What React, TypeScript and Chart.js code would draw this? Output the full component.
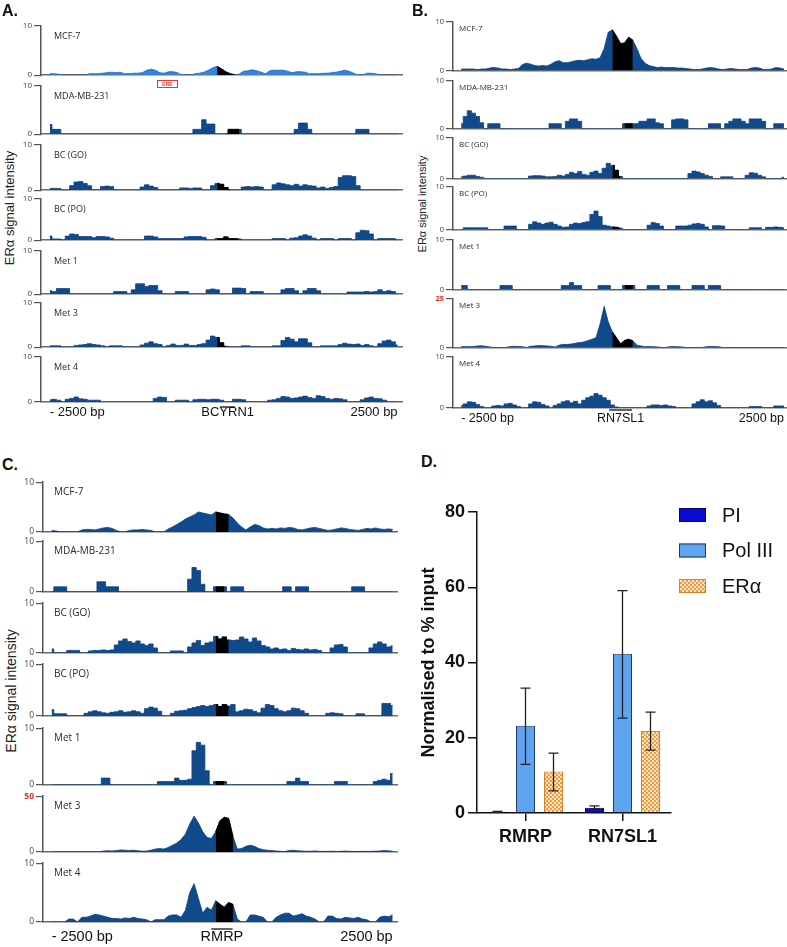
import React, { useEffect, useRef } from 'react';
import { Chart, registerables } from 'chart.js';

Chart.register(...registerables);

const FONT = '"Liberation Sans", Arial, Helvetica, sans-serif';
const LFONT = '"Open Sans", "Liberation Sans", Arial, sans-serif';

const trackNames = ['MCF-7', 'MDA-MB-231', 'BC (GO)', 'BC (PO)', 'Met 1', 'Met 3', 'Met 4'];
const edgeLabels = ['- 2500 bp', '2500 bp'];

// ---------------- Panel A (BCYRN1) : 80 bins across -2500..+2500 bp
const aMCF7 = [0.3,0.3,0.2,0,0,0,0,0,0,0.3,0.3,0.3,0.4,0.5,0.6,0.5,0.6,0.3,0.3,0.4,0.4,0.5,1.0,1.2,1.0,0.5,0.4,0.7,0.7,0.5,0,0,0,0.3,0.4,0.6,1.0,1.5,1.8,1.3,0.7,0.3,0.1,0.2,0.8,0.9,1.1,0.9,0.6,0.3,0.9,1.0,1.0,1.0,0.8,0.5,0.7,0.7,0.6,0.3,0.3,0.3,0.4,0.4,0.5,0.6,0.8,1.0,0.8,0.4,0,0,0.4,0.4,0.3,0,0,0,0,0];
const aMDA = [2.0,1.0,1.0,0,0,0,0,0,0,0,0,0,0,0,0,0,0,0,0,0,0,0,0,0,0,0,0,0,0,0,0,0,0,1.0,1.0,3.0,2.1,2.1,0,0,0,1.0,1.0,1.0,0,0,0,0,0,0,0,0,0,0,0,0,1.0,2.3,2.3,1.0,0,0,0,0,0,0,0,0,0,0,1.0,1.0,1.0,0,0,0,0,0,0,0];
const aGO = [0.4,0.4,0.4,0,0,1.0,1.8,1.9,1.5,1.0,0,0,0.8,0.9,0.8,0,0,0,0,0,0,0.7,1.2,0.9,0.6,0,0,0,0,0,0.5,0.5,0.4,0.5,0.5,0,0,1.0,1.5,1.3,0.6,0,0,0,0.7,0.8,0.7,0.8,0.7,0,0,1.2,1.6,1.4,1.2,1.0,1.3,0.9,1.2,1.0,0.9,0.5,0.7,0.4,0.6,0.8,2.8,3.2,3.2,3.0,1.0,0,0,0,0,0,0,0,0,0];
const aPO = [1.0,0.3,0.3,0,1.0,1.5,1.4,0.9,0.9,0.9,0.6,0.9,0.9,0.8,0.5,0,0,0,0,0,0,0,1.0,1.0,0.8,0.4,0.4,0.4,0.4,0.4,0.4,0.8,0.9,0.9,0.9,0.7,0,0,0.4,0.4,0.8,0.4,0.4,0.3,0,0,0,0,0,0,0,0.4,0.4,0.4,0,0.5,0.6,1.0,1.3,1.0,0.5,0,0.4,0.4,0.4,0,0.4,0.4,0.4,0,1.8,2.4,2.3,1.5,0,0.4,0.4,0.4,0.4,0];
const aMet1 = [0.8,0.6,1.3,1.3,1.3,0,0,0,0,0,0,0,0,0,0,0.6,0.6,0.6,0,1.0,2.4,2.4,1.8,2.0,2.0,0.8,0,0,0,0.6,0.6,0.6,0,0,0,0,1.0,1.2,1.0,0,0,0,1.4,1.4,1.3,0,0.6,0.6,0.6,0,0,0,0,1.0,1.3,1.3,0.8,0,0.8,1.3,1.3,0.8,0,0,0,0,0,0,0.5,0.5,0.5,0.5,0.6,0.5,0.6,1.0,0.6,0.8,0.6,0];
const aMet3 = [0.3,0.3,0.3,0,0,0,0.4,0.5,0.6,0.8,0.6,0.5,0.3,0,0.3,0.3,0.3,0,0,0,0,0.5,0.9,1.2,0.8,0.6,0,0.4,0.7,0.4,0.4,0.7,0.4,0.4,0.6,0.8,1.6,2.5,2.2,1.0,0.2,0,0,0,0.3,0.3,0,0,0,0,0,0.3,0.3,1.5,2.2,1.8,1.2,1.9,1.9,1.0,0,0,0.3,0.3,0.3,0.3,0.6,0.9,0.7,0.6,0.7,0.4,0.6,0.3,0,0.8,1.4,1.6,1.2,0.5];
const aMet4 = [0.5,0.6,0.4,0,0.6,0.8,1.1,0.7,0.6,0.4,0.4,0.4,0,0,0,0,0,0,0,0,0,0,0,0,0.8,1.1,1.0,0,0,0.4,0.4,0.4,0,0.5,0.6,0.6,0.5,0.6,0.6,0.4,0,0,0.6,0.6,0.5,0,0,0,0,0,0.4,0.5,0.8,1.2,1.1,0.8,0.9,1.1,1.3,1.0,0.8,1.4,1.2,0.8,0.6,0.8,0.7,0.5,0,0,0,0.5,0.9,1.1,0.8,0.7,0.4,0,0,0];
const aMax = [10, 10, 10, 10, 10, 10, 10];
const aBlack = [[38, 42], [40, 43], [38, 41], [38, 43], null, [38, 40], null];
const aGeneName = 'BCYRN1';
const aGeneBins = [38.7, 42.1];

// ---------------- Panel B (RN7SL1)
const bMCF7 = [0.3,0.3,0.3,0.3,0.2,0.3,0.3,0.5,0.6,0.5,0.3,0.3,0.2,0.3,0.4,1.2,1.5,1.3,1.0,0.9,1.0,0.9,1.3,1.8,2.0,1.6,1.6,1.8,2.0,2.1,2.0,2.2,2.4,2.3,2.6,4.5,7.8,8.3,7.0,5.5,5.6,6.8,6.2,4.5,2.5,1.5,1.0,0.8,0.6,0.7,0.6,0.6,0.6,0.5,0.5,0.4,0.3,0.2,0.2,0.3,0.5,0.6,0.5,0.3,0.2,0.3,0.4,0.3,0.2,0.2,0.2,0.5,0.6,0.5,0.2,0.2,0.3,0.6,0.5,0.3];
const bMDA = [1.0,2.5,3.7,3.2,2.5,1.2,0,1.0,1.0,1.0,0,0,0,0,0,0,0,0,0,0,0,0,1.0,1.0,1.0,0,1.5,2.0,2.0,1.5,0,0,0,0,0,0,0,0,0,0,1.0,1.0,1.0,1.0,1.5,1.5,2.0,2.0,1.2,1.0,0,0,1.8,2.0,2.0,1.8,0,0,0,0,0,1.0,1.0,1.0,0,1.0,1.5,2.0,2.0,1.5,1.0,2.0,2.0,2.0,1.5,0,0,1.0,1.0,1.0];
const bGO = [0.4,0.6,0.8,0.8,0.5,0.3,0,0,0,0,0,0,0,0,0,0,0,0.6,0.7,0.7,0.6,0.4,0.4,0.5,0.8,0.6,1.0,1.5,1.2,1.7,1.0,0.8,1.5,1.8,1.2,2.5,3.7,3.2,2.0,0.5,0,0,0,0,0,0,0,0,0,0,0,0,0,0,0,0,1.2,1.8,1.6,1.2,0.8,0.5,0,0,0.4,0.4,0.4,0,0,0,0.8,1.4,1.3,0.8,0.4,0,0,0,0,0.3];
const bPO = [0,0.4,0.4,0.4,0.4,0.4,0.4,0,0,0,0,0.8,0.8,0.8,0,0,0,1.2,1.8,1.5,1.2,1.5,1.7,1.2,0.8,0.5,0.6,1.2,1.5,1.4,1.6,1.8,3.5,4.3,3.0,1.0,0.8,0.6,0.5,0.3,0,0,0,0,0,0,1.0,1.6,1.4,0.8,0,0,0,0.8,0.8,0.8,1.0,1.3,1.4,1.2,0.6,0,0.9,0.9,0.8,0,0,0,0,0,0,0.4,0.4,0.4,0,0.5,0.5,0.6,0.5,0.4];
const bMet1 = [0.8,0.8,0,0,0,0,0,0,0,0,0.8,0.8,0.8,0,0,0,0,0,0,0,0,0,0,0,0,0.8,0.8,1.4,0.8,0.8,0,0,0,0,0.8,0.8,0.8,0,0,0,0.8,0.8,0.8,0,0,0,0.8,0.8,0.8,0,0,0.8,0.8,0.8,0,0,0,0.8,0.8,0.8,0,0.8,0.8,0.8,0,0,0,0,0,0,0,0,0,0,0,0,0,0,0,0];
const bMet3 = [0.4,0.5,0.4,0.5,0.8,0.9,0.6,0.3,0,0,0,0,0.5,0.6,0.5,0.4,0,0.6,0.8,1.0,0.9,0.8,0.6,0.3,1.2,1.6,1.5,1.8,2.2,2.5,2.8,3.5,4.2,5.0,12,21,13,8,5,1.8,3.6,4.2,3.5,1.2,0.8,0.4,0.5,0.4,0.3,0,0,0.4,0.5,0.4,0.3,0,0,0,0,0,0.4,0.5,0.5,0.4,0,0,0,0,0,0,0,0,0,0,0,0,0,0,0,0];
const bMet4 = [0.5,0.8,1.2,1.1,0.7,0.3,0,0,0.4,0.5,0.4,0.8,0.9,0.6,0.3,0,0,0.8,1.2,1.1,0.7,0.4,0,0.5,0.8,1.2,1.4,1.0,1.3,0.8,1.5,2.0,2.3,2.8,2.5,2.0,1.5,0.6,0.2,0,0,0,0,0,0,0,0.4,0.6,0.6,0.5,0.6,0.4,0.3,0,0,0,0,0.8,1.2,1.6,1.2,1.4,1.0,0.5,0,0,0,0,0,0,0,0.3,0.3,0.3,0,0,0,0.4,0.4,0.4];
const bMax = [10, 10, 10, 10, 10, 25, 10];
const bBlack = [[37, 42], [40, 42], [37, 39], [37, 39], [40, 42], [37, 42], null];
const bGeneName = 'RN7SL1';
const bGeneBins = [36.2, 41.8];

// ---------------- Panel C (RMRP)
const cMCF7 = [0.3,0.2,0,0,0,0,0,0.4,0.5,0.5,0.4,0.6,0.8,0.9,0.7,0.3,0,0,0.3,0.4,0.4,0.5,0.4,0.3,0,0,0,0.6,1.0,1.5,2.0,2.6,3.0,3.4,4.0,3.8,3.6,3.4,4.0,3.8,3.6,3.5,2.8,1.8,1.0,0.4,1.0,1.5,1.3,0.8,0.6,0.7,0.6,0.8,0.7,0.9,0.8,0.5,0.4,0.6,0.8,0.9,0.7,0.5,0.3,0.4,0.6,0.8,0.7,0.5,0.4,0.3,0.5,0.7,0.6,0.8,0.6,0.5,0.6,0.5];
const cMDA = [0,1.0,1.0,1.0,0,0,0,0,0,0,0,2.0,2.0,1.0,1.0,1.0,0,0,0,0,0,0,0,0,0,0,0,0,0,0,0,0,2.5,4.8,4.2,1.5,0,0,1.0,1.0,1.0,0,1.0,1.0,1.0,0,0,0,0,0,0,0,0,0,1.0,1.0,0,1.0,1.0,1.0,0,0,0,0,0,0,0,0,0,0,1.0,1.0,1.0,0,0,0,0,0,0,0];
const cGO = [0.8,0,0,0,0.5,0.5,0.5,0,0,0.4,0.5,0.5,0.6,0.5,0.6,1.6,2.4,2.8,2.3,2.0,2.4,1.8,1.5,1.8,1.0,0,0,0,0.4,0.4,0.4,0,1.2,2.0,2.5,1.5,2.0,2.2,3.3,2.8,3.2,2.6,2.5,2.6,3.2,2.8,2.2,3.0,2.4,1.5,1.2,0.8,1.0,0.7,0.8,0.5,0.9,0.7,0.6,0.8,0.6,0.7,0.5,0,0,1.0,1.6,1.7,1.2,0,0,0,0,0,1.0,1.8,2.2,1.8,1.2,1.4];
const cPO = [1.2,0.4,0.4,0.4,0,0,0,0,0.5,0.8,1.0,0.8,0.6,0.5,0.7,0.8,1.0,0.7,0.8,1.0,0.8,0.5,1.4,1.7,1.5,0.9,0,0,0.5,0.9,1.0,1.1,1.4,1.6,1.8,2.0,1.8,2.0,2.2,1.8,2.2,1.9,2.2,0.8,1.0,1.3,1.2,0.9,0.6,1.5,2.2,2.0,1.4,1.0,0.8,1.0,1.5,1.4,1.0,0.5,0,0,0,0,0.5,0.6,0.5,0.4,0,0,0,0.4,0.4,0,0,0,0,2.4,2.4,2.0];
const cMet1 = [0,0,0,0,0,0,0,0,0,0,0,0,1.2,1.2,0,0,0,0,0,0,0,0,0,0,0,0.6,0.6,0.6,0.6,1.2,0.8,0.8,1.0,6.0,7.5,7.0,2.5,0,0.6,0.6,0.6,0,0,0,0,0,0,0,0,0,0,0,0,0,0,0.6,0.6,1.2,0.6,0.6,0,0,0,0,0,0,0.6,0.6,0.6,0,0,0,0,0,0,0.6,0.8,1.0,0.8,2.0];
const cMet3 = [0,0,0,0,0,0,0,0,0,0,0,0,0.8,1.0,0.8,1.2,1.8,1.5,1.2,1.5,1.0,0.6,0.8,1.5,2.5,3.0,2.5,4.0,6.0,8.0,11,16,25,32,26,18,13,12,18,28,31,30,14,2.5,3,5,6,5,3,2,1.5,1.2,0.8,0.5,0.3,1.2,1.5,1.0,0.8,0.5,0.6,0.8,0.5,0.4,0.5,0.6,0.4,0.5,0.7,0.5,0.4,0.3,0.5,0.4,0.5,0.6,0.8,1.2,1.0,0.6];
const cMet4 = [0,0,0,0,0.5,0.5,0,0.8,0.8,1.0,1.3,1.2,1.0,0.8,0.6,0.6,0.5,0.7,0.6,0.8,0.6,0.5,0.4,0,0.4,0.4,0.4,1.0,1.2,1.2,0.8,2.0,5.0,6.5,4.0,1.5,2.5,2.0,3.6,3.0,2.5,3.3,3.0,0.5,0,0,1.2,1.2,1.0,0.8,0,0,0.8,1.2,1.5,1.5,1.0,1.2,1.4,1.0,0.8,0.5,0,0,1.0,1.0,0.6,0.5,0.8,0.7,0.6,0.8,0.5,0.4,0,0,0.8,1.0,0.9,1.2];
const cMax = [10, 10, 10, 10, 10, 50, 10];
const cBlack = [[38, 41], [38, 40], [38, 41], [38, 41], [38, 40], [38, 42], [38, 42]];
const cGeneName = 'RMRP';
const cGeneBins = [37, 41.9];

// ---------------- Panel D (ChIP-qPCR)
const groups = ['RMRP', 'RN7SL1'];
const seriesNames = ['PI', 'Pol III', 'ER\u03b1'];
const piMean = [0.3, 1.4];
const piLow = [0.2, 1.1];
const piHigh = [0.45, 1.9];
const polMean = [23.2, 42.3];
const polLow = [12.9, 25.2];
const polHigh = [33.2, 59.1];
const eraMean = [11.0, 21.8];
const eraLow = [5.9, 16.7];
const eraHigh = [15.9, 26.8];
const yTicksD = [0, 20, 40, 60, 80];

// ---------------- Layout / style (positions only)
const layoutA = { axisX: 41, right: 402, tops: [25, 85, 144, 198, 250, 302, 356], bases: [77, 136, 192, 242, 296, 349, 402], xMax: 80,
  stepped: [false, true, true, true, true, true, true],
  labelSize: 9, labelDx: 13, labelDy: 11, tickSize: 8, bottomSize: 13, bottomPad: 3, barDy: 5 };
const layoutB = { axisX: 453, right: 786, tops: [21, 80, 137, 186, 239, 298, 356], bases: [72, 130, 180, 231, 291, 349, 408], xMax: 79.5,
  stepped: [false, true, true, true, true, false, true],
  labelSize: 8, labelDx: 6, labelDy: 7, tickSize: 7.5, bottomSize: 12.5, bottomPad: 3, barDy: 2 };
const layoutC = { axisX: 43, right: 397, tops: [481, 540, 602, 663, 727, 795, 862], bases: [534, 594, 655, 718, 787, 854, 922], xMax: 80,
  stepped: [false, true, true, true, true, false, false],
  labelSize: 10, labelDx: 11, labelDy: 10, tickSize: 8.5, bottomSize: 14.5, bottomPad: 6, barDy: 7 };

const DARK = '#104a8c';
const DARK_B = '#0c3f7a';
const LIGHT = '#3683da';
const LIGHT_B = '#1f62b5';

function Track(p: any) {
  const ref = useRef<HTMLCanvasElement>(null);
  const AX = 24;
  const PT = 6;
  const PR = 2;
  const PB = p.isLast ? 0 : 5;
  const XH = p.isLast ? 26 : 0;
  const left = p.axisX - AX;
  const w = p.right - left + PR;
  const h = p.base - p.top + PT + PB + XH;

  useEffect(() => {
    const pts = p.values.map((v: number, i: number) => ({ x: i, y: v }));
    const blk = p.black ? pts.filter((pt: any) => pt.x >= p.black[0] && pt.x <= p.black[1]) : [];
    const stepped = p.stepped ? 'middle' : false;
    const geneMid = (p.geneBins[0] + p.geneBins[1]) / 2;
    const bottomTicks = [0, geneMid, p.values.length - 1];
    const bottomLabels = [edgeLabels[0], p.geneName, edgeLabels[1]];
    const decor = {
      id: 'trackDecor',
      afterDraw(chart: any) {
        const c = chart.ctx;
        const a = chart.chartArea;
        c.save();
        c.fillStyle = '#2a2a2a';
        c.font = `${p.labelSize}px ${LFONT}`;
        c.textBaseline = 'middle';
        c.textAlign = 'left';
        c.fillText(p.name, a.left + p.labelDx, a.top + p.labelDy);
        if (p.isLast) {
          const xs = chart.scales.x;
          const y = a.bottom + p.barDy;
          c.strokeStyle = '#111';
          c.lineWidth = 1.3;
          c.beginPath();
          c.moveTo(xs.getPixelForValue(p.geneBins[0]), y);
          c.lineTo(xs.getPixelForValue(p.geneBins[1]), y);
          c.stroke();
        }
        c.restore();
      },
    };
    const chart = new Chart(ref.current as HTMLCanvasElement, {
      type: 'line',
      data: {
        datasets: [
          { data: blk, backgroundColor: '#000', borderColor: '#000', borderWidth: 0.8, fill: 'origin', pointRadius: 0, tension: 0, stepped, order: 0 },
          { data: pts, backgroundColor: p.fill, borderColor: p.border, borderWidth: 0.8, fill: 'origin', pointRadius: 0, tension: 0, stepped, order: 1 },
        ],
      },
      options: {
        animation: false,
        responsive: false,
        maintainAspectRatio: false,
        devicePixelRatio: 1,
        events: [],
        layout: { padding: { top: PT, bottom: PB, right: PR, left: 0 } },
        plugins: { legend: { display: false }, tooltip: { enabled: false } },
        scales: {
          x: {
            type: 'linear', min: -2, max: p.xMax, z: 1,
            grid: { display: false, drawTicks: false },
            border: { display: true, color: '#6a6a6a', width: 1.5 },
            ticks: {
              display: p.isLast, autoSkip: false, maxRotation: 0, minRotation: 0, align: 'inner',
              padding: p.bottomPad, color: '#111', font: { size: p.bottomSize, family: FONT },
              callback: (_v: any, i: number) => bottomLabels[i],
            },
            afterBuildTicks: (s: any) => { s.ticks = p.isLast ? bottomTicks.map((v) => ({ value: v })) : []; },
            afterFit: (s: any) => { s.height = XH; },
          },
          y: {
            type: 'linear', min: 0, max: p.max, z: 1,
            grid: { drawOnChartArea: false, drawTicks: true, tickLength: 7, color: '#555', lineWidth: 1.2 },
            border: { display: true, color: '#555', width: 1.5 },
            ticks: {
              padding: 2,
              font: (ctx: any) => ({ size: p.tickSize, family: LFONT, weight: p.max !== 10 && ctx.tick && ctx.tick.value === p.max ? 'bold' : 'normal' }),
              color: (ctx: any) => (p.max !== 10 && ctx.tick && ctx.tick.value === p.max ? '#e0302c' : '#444'),
              callback: (v: any) => String(v),
            },
            afterBuildTicks: (s: any) => { s.ticks = [{ value: 0 }, { value: p.max }]; },
            afterFit: (s: any) => { s.width = AX; },
          },
        },
      } as any,
      plugins: [decor],
    });
    return () => chart.destroy();
  }, []);

  return (
    <canvas
      ref={ref}
      width={w}
      height={h}
      style={{ position: 'absolute', left, top: p.top - PT, width: w, height: h }}
    />
  );
}

function TrackPanel(props: any) {
  const { tracks, maxes, blacks, lay, geneName, geneBins } = props;
  return (
    <>
      {tracks.map((vals: number[], i: number) => (
        <Track
          key={i}
          values={vals}
          max={maxes[i]}
          black={blacks[i]}
          name={trackNames[i]}
          axisX={lay.axisX}
          right={lay.right}
          top={lay.tops[i]}
          base={lay.bases[i]}
          xMax={lay.xMax}
          stepped={lay.stepped[i]}
          fill={props.lightFirst && i === 0 ? LIGHT : DARK}
          border={props.lightFirst && i === 0 ? LIGHT_B : DARK_B}
          isLast={i === tracks.length - 1}
          geneName={geneName}
          geneBins={geneBins}
          labelSize={lay.labelSize}
          labelDx={lay.labelDx}
          labelDy={lay.labelDy}
          tickSize={lay.tickSize}
          bottomSize={lay.bottomSize}
          bottomPad={lay.bottomPad}
          barDy={lay.barDy}
        />
      ))}
    </>
  );
}

function BarPanel() {
  const ref = useRef<HTMLCanvasElement>(null);
  const W = 367;
  const H = 360;
  useEffect(() => {
    const canvas = ref.current as HTMLCanvasElement;
    const pc = document.createElement('canvas');
    pc.width = 4;
    pc.height = 4;
    const g = pc.getContext('2d') as CanvasRenderingContext2D;
    g.fillStyle = '#fde5c4';
    g.fillRect(0, 0, 4, 4);
    g.fillStyle = '#f39a3e';
    g.fillRect(0, 0, 2, 2);
    g.fillRect(2, 2, 2, 2);
    const pattern = (canvas.getContext('2d') as CanvasRenderingContext2D).createPattern(pc, 'repeat');

    const lows = [piLow, polLow, eraLow];
    const highs = [piHigh, polHigh, eraHigh];

    const errorBars = {
      id: 'errorBars',
      afterDatasetsDraw(chart: any) {
        const c = chart.ctx;
        const ys = chart.scales.y;
        c.save();
        c.strokeStyle = '#222';
        c.lineWidth = 1.3;
        chart.data.datasets.forEach((_d: any, di: number) => {
          const meta = chart.getDatasetMeta(di);
          meta.data.forEach((el: any, j: number) => {
            const x = el.x;
            const y1 = ys.getPixelForValue(lows[di][j]);
            const y2 = ys.getPixelForValue(highs[di][j]);
            c.beginPath();
            c.moveTo(x, y1); c.lineTo(x, y2);
            c.moveTo(x - 5, y1); c.lineTo(x + 5, y1);
            c.moveTo(x - 5, y2); c.lineTo(x + 5, y2);
            c.stroke();
          });
        });
        c.restore();
      },
    };

    const legendD = {
      id: 'legendD',
      afterDraw(chart: any) {
        const c = chart.ctx;
        const a = chart.chartArea;
        c.save();
        chart.data.datasets.forEach((d: any, i: number) => {
          const x = a.right + 8;
          const y = a.top + 3 + i * 35.5;
          c.fillStyle = d.backgroundColor;
          c.fillRect(x, y - 7, 27, 14);
          c.strokeStyle = d.borderColor;
          c.lineWidth = 1;
          c.strokeRect(x + 0.5, y - 6.5, 26, 13);
          c.fillStyle = '#111';
          c.font = `20px ${FONT}`;
          c.textBaseline = 'middle';
          c.textAlign = 'left';
          c.fillText(d.label, x + 43, y + 1);
        });
        c.restore();
      },
    };

    const chart = new Chart(canvas, {
      type: 'bar',
      data: {
        labels: groups,
        datasets: [
          { label: seriesNames[0], data: piMean, backgroundColor: '#0a0ad2', borderColor: '#03036e', borderWidth: 1 },
          { label: seriesNames[1], data: polMean, backgroundColor: '#5ea4f0', borderColor: '#1d3a63', borderWidth: 1 },
          { label: seriesNames[2], data: eraMean, backgroundColor: pattern, borderColor: '#d98128', borderWidth: 1 },
        ],
      },
      options: {
        animation: false,
        responsive: false,
        maintainAspectRatio: false,
        devicePixelRatio: 1,
        events: [],
        layout: { padding: { top: 22, right: 116, bottom: 7, left: 0 } },
        datasets: { bar: { categoryPercentage: 0.866, barPercentage: 0.68 } },
        plugins: { legend: { display: false }, tooltip: { enabled: false } },
        scales: {
          x: {
            grid: { display: true, offset: false, drawOnChartArea: false, drawTicks: true, tickLength: 8, color: '#111', lineWidth: 1.5 },
            border: { display: true, color: '#111', width: 1.5 },
            ticks: { color: '#111', padding: 5, font: { size: 18, weight: 'bold', family: FONT } },
            afterFit: (s: any) => { s.height = 30; },
          },
          y: {
            min: 0, max: 80,
            grid: { drawOnChartArea: false, drawTicks: true, tickLength: 9, color: '#111', lineWidth: 1.5 },
            border: { display: true, color: '#111', width: 1.5 },
            ticks: { color: '#111', padding: 3, font: { size: 18, weight: 'bold', family: FONT } },
            afterBuildTicks: (s: any) => { s.ticks = yTicksD.map((v) => ({ value: v })); },
            title: { display: true, text: 'Normalised to % input', color: '#111', padding: 0, font: { size: 18, weight: 'bold', family: FONT, lineHeight: 1.0 } },
            afterFit: (s: any) => { s.width = 57; },
          },
        },
      } as any,
      plugins: [errorBars, legendD],
    });
    return () => chart.destroy();
  }, []);
  return <canvas ref={ref} width={W} height={H} style={{ position: 'absolute', left: 420, top: 490, width: W, height: H }} />;
}

const letterStyle: any = { position: 'absolute', fontFamily: FONT, fontWeight: 'bold', fontSize: 16, color: '#111', lineHeight: '18px' };

function VTitle(props: any) {
  return (
    <div
      style={{
        position: 'absolute', left: props.x, top: props.y, transform: 'translate(-50%, -50%) rotate(-90deg)',
        whiteSpace: 'nowrap', fontFamily: FONT, fontSize: props.size, color: '#222', lineHeight: 1,
      }}
    >
      ER{'\u03b1'} signal intensity
    </div>
  );
}

export default function App() {
  return (
    <div style={{ position: 'absolute', left: 0, top: 0, width: 787, height: 947, background: '#fff', overflow: 'hidden' }}>
      <TrackPanel tracks={[aMCF7, aMDA, aGO, aPO, aMet1, aMet3, aMet4]} maxes={aMax} blacks={aBlack} lay={layoutA}
        geneName={aGeneName} geneBins={aGeneBins} lightFirst={true} />
      <TrackPanel tracks={[bMCF7, bMDA, bGO, bPO, bMet1, bMet3, bMet4]} maxes={bMax} blacks={bBlack} lay={layoutB}
        geneName={bGeneName} geneBins={bGeneBins} lightFirst={false} />
      <TrackPanel tracks={[cMCF7, cMDA, cGO, cPO, cMet1, cMet3, cMet4]} maxes={cMax} blacks={cBlack} lay={layoutC}
        geneName={cGeneName} geneBins={cGeneBins} lightFirst={false} />
      <BarPanel />
      <div style={{ ...letterStyle, left: 2, top: 2 }}>A.</div>
      <div style={{ ...letterStyle, left: 412, top: 2 }}>B.</div>
      <div style={{ ...letterStyle, left: 2, top: 456 }}>C.</div>
      <div style={{ ...letterStyle, left: 421, top: 453 }}>D.</div>
      <VTitle x={9} y={208} size={13} />
      <VTitle x={422} y={204} size={11} />
      <VTitle x={11} y={691} size={14} />
      <div style={{ position: 'absolute', left: 157, top: 80, width: 19, height: 6, border: '1px solid #e03a3a', color: '#e03a3a',
        fontSize: 5, lineHeight: '6px', textAlign: 'center', fontFamily: FONT, fontWeight: 'bold' }}>ERE</div>
    </div>
  );
}
